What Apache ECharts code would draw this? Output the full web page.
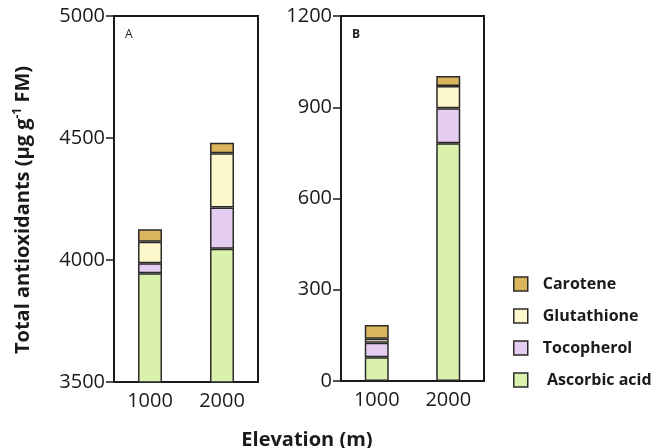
<!DOCTYPE html>
<html><head><meta charset="utf-8">
<script src="https://cdn.jsdelivr.net/npm/echarts@6/dist/echarts.min.js"></script>
<style>html,body{margin:0;padding:0;background:#fff}#c{width:664px;height:448px}</style>
</head><body><div id="c"></div>
<script>
var categories = ['1000', '2000'];
var seriesNames = ['Ascorbic acid', 'Tocopherol', 'Glutathione', 'Carotene'];
// Panel A (stack components)
var ascorbicA = [3946, 4046];
var tocopherolA = [41, 169];
var glutathioneA = [88, 223];
var caroteneA = [51, 43];
// Panel B
var ascorbicB = [78, 782];
var tocopherolB = [48, 115];
var glutathioneB = [13, 73];
var caroteneB = [45, 33];
var ticksA = [3500, 4000, 4500, 5000];
var ticksB = [0, 300, 600, 900, 1200];

var colors = {
  'Ascorbic acid': '#d9f1ad',
  'Tocopherol': '#e4cdee',
  'Glutathione': '#fcf8cb',
  'Carotene': '#dbb45e'
};
var dataA = [ascorbicA, tocopherolA, glutathioneA, caroteneA];
var dataB = [ascorbicB, tocopherolB, glutathioneB, caroteneB];
var font = 'Open Sans';
var ink = '#1a1a1a';

function mkSeries(idx, data, stack) {
  return seriesNames.map(function (n, i) {
    return {
      name: n, type: 'bar', stack: stack,
      xAxisIndex: idx, yAxisIndex: idx,
      barWidth: 24,
      data: data[i],
      itemStyle: { color: colors[n], borderColor: '#2a2a2a', borderWidth: 1.5 }
    };
  });
}
function xAx(idx) {
  return {
    type: 'category', gridIndex: idx, data: categories,
    axisLine: { lineStyle: { color: ink, width: 2 } },
    axisTick: { show: false },
    axisLabel: { color: ink, fontSize: 20, fontFamily: font, margin: 9 }
  };
}
function yAx(idx, min, max, interval, ticks) {
  return {
    type: 'value', gridIndex: idx, min: min, max: max, interval: interval,
    axisLine: { show: true, lineStyle: { color: ink, width: 2 } },
    axisTick: { show: true, length: 8, lineStyle: { color: ink, width: 1.5 } },
    axisLabel: { color: ink, fontSize: 20, fontFamily: font, margin: 9,
      formatter: function (v) { return ticks.indexOf(v) >= 0 ? String(v) : ''; } },
    splitLine: { show: false }
  };
}

var chart = echarts.init(document.getElementById('c'));
var yA = yAx(0, 3500, 5000, 500, ticksA);
yA.name = 'Total antioxidants (µg g{sup|-1} FM)';
yA.nameLocation = 'middle';
yA.nameRotate = 90;
yA.nameGap = 80;
yA.nameTextStyle = { color: ink, fontSize: 20, fontWeight: 'bold', fontFamily: font, padding: [0, 22, 0, 0],
  rich: { sup: { fontSize: 12, fontWeight: 'bold', fontFamily: font, color: ink, verticalAlign: 'top', padding: [0, 0, 10, 0] } } };

chart.setOption({
  backgroundColor: '#fff',
  animation: false,
  title: [
    { text: 'A', left: 120, top: 24, textStyle: { fontSize: 12, fontWeight: 'normal', color: ink, fontFamily: font } },
    { text: 'B', left: 347, top: 24, textStyle: { fontSize: 12, fontWeight: 'bold', color: ink, fontFamily: font } },
    { text: 'Elevation (m)', left: 302, top: 425, textAlign: 'center',
      textStyle: { fontSize: 20, fontWeight: 'bold', color: ink, fontFamily: font } }
  ],
  grid: [
    { left: 114, top: 16, width: 144, height: 366, show: true, borderColor: ink, borderWidth: 2, backgroundColor: 'transparent' },
    { left: 341, top: 16, width: 143, height: 365, show: true, borderColor: ink, borderWidth: 2, backgroundColor: 'transparent' }
  ],
  legend: {
    orient: 'vertical', left: 508, top: 271,
    data: ['Carotene', 'Glutathione', 'Tocopherol', 'Ascorbic acid'],
    itemWidth: 14, itemHeight: 14, itemGap: 16, icon: 'rect',
    itemStyle: { borderColor: '#2a2a2a', borderWidth: 1.5 },
    textStyle: { color: ink, fontSize: 16, fontWeight: 'bold', fontFamily: font, padding: [0, 0, 0, 10] },
    formatter: function (n) { return n === 'Ascorbic acid' ? ' ' + n : n; }
  },
  xAxis: [xAx(0), xAx(1)],
  yAxis: [yA, yAx(1, 0, 1200, 300, ticksB)],
  series: mkSeries(0, dataA, 'A').concat(mkSeries(1, dataB, 'B'))
});
</script></body></html>
